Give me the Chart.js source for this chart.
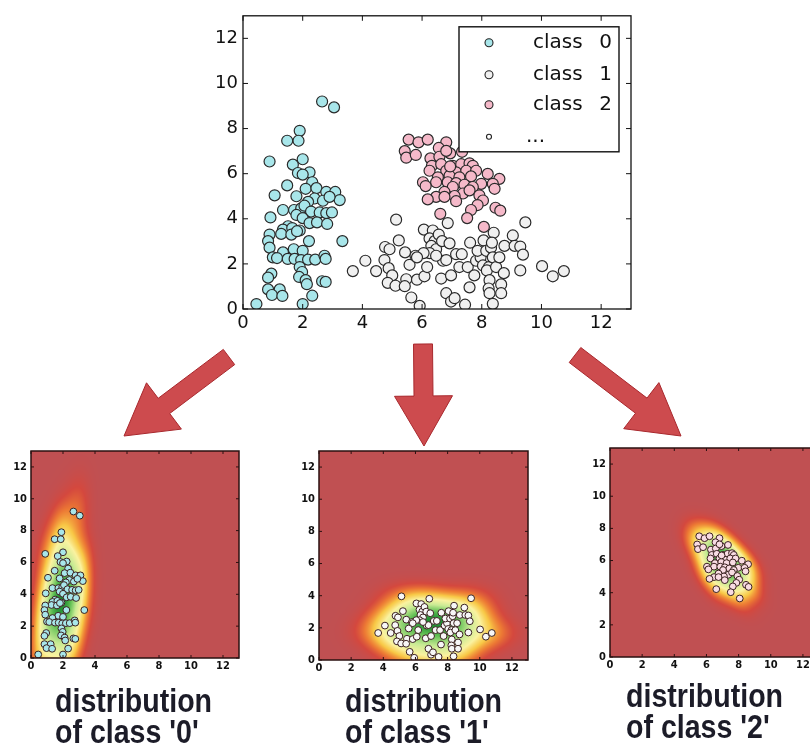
<!DOCTYPE html>
<html><head><meta charset="utf-8">
<script src="https://cdn.jsdelivr.net/npm/chart.js@4.4.1/dist/chart.umd.min.js"></script>
<style>
html,body{margin:0;padding:0;background:#fff;width:810px;height:749px;overflow:hidden;position:relative;}
.box{position:absolute;}
.lbl{position:absolute;font-family:"Liberation Sans",Arial,sans-serif;font-weight:bold;font-size:34px;line-height:31px;color:#1c1c28;white-space:nowrap;transform:scaleX(0.84);transform-origin:0 0;}
svg{position:absolute;left:0;top:0;}
</style></head><body>
<div class="box" style="left:200px;top:0;"><canvas id="main" width="440" height="340"></canvas></div>
<div class="box" style="left:0px;top:440px;"><canvas id="c0" width="250" height="240"></canvas></div>
<div class="box" style="left:285px;top:440px;"><canvas id="c1" width="255" height="240"></canvas></div>
<div class="box" style="left:575px;top:437px;"><canvas id="c2" width="260" height="243"></canvas></div>
<svg id="arrows" width="810" height="749"></svg>
<div class="lbl" style="left:55px;top:685px;">distribution<br>of class '0'</div>
<div class="lbl" style="left:345px;top:685px;">distribution<br>of class '1'</div>
<div class="lbl" style="left:626px;top:680px;">distribution<br>of class '2'</div>
<script>
// ---------------- data ----------------
const class0Points = [[0.45,0.22],[2.65,9.2],[3.05,8.94],[1.9,7.9],[1.48,7.46],[1.86,7.46],[0.89,6.54],[2.0,6.64],[1.67,6.4],[1.84,6.03],[2.23,6.06],[2.0,5.96],[1.48,5.48],[2.32,5.62],[2.1,5.33],[2.46,5.36],[1.06,5.04],[1.79,5.0],[2.79,5.19],[3.09,5.19],[2.4,4.9],[2.68,4.8],[3.24,4.83],[2.9,4.97],[2.18,4.75],[1.34,4.39],[1.71,4.39],[1.95,4.46],[2.06,4.58],[2.28,4.32],[2.57,4.28],[2.79,4.25],[2.98,4.28],[0.92,4.06],[1.79,4.17],[2.0,4.03],[2.23,3.81],[2.48,3.84],[2.82,3.77],[1.51,3.67],[1.34,3.52],[1.65,3.59],[1.9,3.48],[1.28,3.33],[1.62,3.3],[1.81,3.45],[0.89,3.3],[0.84,3.01],[0.89,2.72],[3.33,3.01],[2.21,3.01],[1.7,2.65],[2.0,2.58],[1.34,2.51],[1.0,2.29],[1.14,2.26],[1.5,2.22],[1.73,2.22],[1.95,2.17],[2.18,2.19],[2.42,2.19],[2.73,2.36],[2.77,2.22],[1.9,1.86],[1.98,1.64],[0.95,1.57],[0.84,1.39],[1.88,1.42],[2.1,1.28],[2.14,1.1],[2.65,1.23],[2.77,1.2],[0.84,0.87],[1.23,0.87],[0.97,0.62],[1.32,0.58],[2.32,0.59],[2.0,0.22]];
const class1Points = [[3.68,1.68],[4.1,2.14],[4.46,1.68],[4.74,2.17],[4.76,2.75],[4.91,2.65],[4.88,1.81],[5.0,1.49],[4.85,1.16],[5.11,1.03],[5.13,3.96],[5.22,3.04],[5.43,2.51],[5.58,1.96],[5.47,1.32],[5.42,1.01],[5.64,0.51],[5.92,0.14],[5.78,2.36],[5.83,1.3],[6.08,1.45],[6.17,1.86],[6.06,3.52],[6.36,3.48],[6.25,3.13],[6.42,3.01],[6.31,2.8],[6.47,2.65],[6.25,2.48],[6.05,2.48],[6.56,3.3],[6.67,3.01],[6.86,3.81],[6.92,2.91],[6.7,2.14],[6.81,2.17],[6.47,2.36],[6.64,1.35],[6.97,1.49],[6.81,0.7],[6.97,0.33],[7.09,0.48],[7.44,0.19],[7.14,2.43],[7.33,2.43],[7.25,1.86],[7.53,1.86],[7.61,2.94],[7.59,0.96],[7.75,1.49],[7.81,2.14],[7.96,2.29],[8.04,1.93],[7.86,2.58],[8.06,3.04],[8.15,2.58],[8.24,1.86],[8.31,2.72],[8.37,2.29],[8.17,1.71],[8.26,1.28],[8.23,0.91],[8.26,0.7],[8.37,0.23],[8.4,3.38],[8.34,2.94],[8.48,1.86],[8.59,2.29],[8.76,2.8],[8.74,1.59],[8.65,1.09],[8.65,0.7],[9.04,3.26],[9.1,2.8],[9.29,2.77],[9.38,2.41],[9.29,1.71],[9.46,3.84],[10.02,1.9],[10.38,1.45],[10.75,1.68],[5.83,2.29]];
const class2Points = [[5.55,7.51],[5.88,7.39],[6.19,7.51],[6.81,7.39],[6.56,7.14],[5.42,7.0],[5.47,6.71],[5.79,6.83],[6.94,6.9],[7.34,6.97],[6.28,6.68],[6.58,6.75],[6.33,6.35],[6.64,6.42],[7.03,6.35],[7.31,6.42],[7.59,6.46],[7.7,6.35],[6.25,6.13],[6.81,6.13],[7.14,6.06],[7.48,6.13],[7.81,6.13],[8.2,5.99],[6.53,5.84],[6.92,5.91],[7.25,5.84],[7.64,5.88],[8.59,5.77],[6.03,5.62],[6.47,5.62],[6.86,5.62],[7.14,5.58],[7.42,5.51],[7.98,5.55],[8.37,5.55],[6.12,5.45],[7.03,5.41],[7.7,5.41],[8.43,5.33],[6.75,5.19],[7.37,5.12],[7.59,5.26],[7.09,5.01],[6.47,4.97],[6.75,4.97],[7.92,5.04],[6.19,4.86],[7.14,4.78],[8.04,4.81],[7.86,4.61],[7.64,4.39],[8.46,4.49],[8.62,4.36],[6.61,4.22],[7.51,4.03],[8.07,3.64],[6.81,7.01],[6.94,6.32]];
const classNames = ['class','class','class','...'];
const classIds = ['0','1','2',''];
const tickValues = [0,2,4,6,8,10,12];
const axisMin = 0, axisMax = 13;

// ---------------- styles ----------------
const fills = ['#a8e6ea','#f0f0f0','#f5b9c9'];
const smallFills = ['#a8e6ea','#f7f7f7','#f8dbe3'];
const allClasses = [class0Points, class1Points, class2Points];
const toXY = pts => pts.map(p => ({x:p[0], y:p[1]}));

const framePlugin = {
  id:'frame',
  afterDatasetsDraw(chart, args, o){
    const {ctx, chartArea:a, scales:{x,y}} = chart;
    ctx.save();
    ctx.strokeStyle = o.color; ctx.lineWidth = o.width;
    ctx.strokeRect(a.left, a.top, a.right-a.left, a.bottom-a.top);
    ctx.lineWidth = o.tickWidth;
    ctx.beginPath();
    tickValues.forEach(v=>{
      const px = x.getPixelForValue(v), py = y.getPixelForValue(v);
      ctx.moveTo(px,a.bottom); ctx.lineTo(px,a.bottom-o.len);
      ctx.moveTo(px,a.top); ctx.lineTo(px,a.top+o.len);
      ctx.moveTo(a.left,py); ctx.lineTo(a.left+o.len,py);
      ctx.moveTo(a.right,py); ctx.lineTo(a.right-o.len,py);
    });
    ctx.stroke(); ctx.restore();
  }
};

const legendPlugin = {
  id:'boxLegend',
  afterDatasetsDraw(chart, args, o){
    if(!o.show) return;
    const {ctx, chartArea:a} = chart;
    const L = a.left + 216, T = a.top + 11, W = 160, H = 125;
    ctx.save();
    ctx.fillStyle = '#fff'; ctx.fillRect(L,T,W,H);
    ctx.strokeStyle = '#111'; ctx.lineWidth = 1.4; ctx.strokeRect(L,T,W,H);
    ctx.font = '20px "DejaVu Sans"'; ctx.textBaseline = 'middle'; ctx.fillStyle = '#111';
    const rows = [T+16, T+48, T+78, T+110];
    rows.forEach((ry,i)=>{
      ctx.beginPath();
      ctx.arc(L+30, ry, i<3?4:2.5, 0, Math.PI*2);
      ctx.fillStyle = i<3 ? fills[i] : '#fff'; ctx.fill();
      ctx.strokeStyle = '#222'; ctx.lineWidth = 1.1; ctx.stroke();
      ctx.fillStyle = '#111';
      ctx.textAlign = 'left';
      ctx.fillText(classNames[i], i<3 ? L+74 : L+67, ry);
      ctx.textAlign = 'right';
      ctx.fillText(classIds[i], L+153, ry);
    });
    ctx.restore();
  }
};

// colour map for density
const cmapStops = [
  [0.00,[192,80,82]],
  [0.04,[212,72,62]],
  [0.10,[236,120,52]],
  [0.20,[248,200,70]],
  [0.34,[250,242,160]],
  [0.55,[200,234,148]],
  [0.80,[95,190,82]],
  [1.00,[28,140,48]]
];
function cmap(t){
  for(let k=1;k<cmapStops.length;k++){
    if(t<=cmapStops[k][0]){
      const [t0,c0]=cmapStops[k-1],[t1,c1]=cmapStops[k];
      const f=(t-t0)/(t1-t0);
      return c0.map((c,i)=>c+(c1[i]-c)*f);
    }
  }
  return cmapStops[cmapStops.length-1][1];
}

const heatPlugin = {
  id:'heat',
  beforeDatasetsDraw(chart, args, o){
    if(!o.points) return;
    const {ctx, chartArea:a, scales:{x,y}} = chart;
    const pts = o.points, n = pts.length;
    let mx=0,my=0; pts.forEach(p=>{mx+=p[0];my+=p[1];}); mx/=n; my/=n;
    let sxx=0,syy=0,sxy=0;
    pts.forEach(p=>{const dx=p[0]-mx,dy=p[1]-my;sxx+=dx*dx;syy+=dy*dy;sxy+=dx*dy;});
    sxx/=(n-1); syy/=(n-1); sxy/=(n-1);
    const f2 = Math.pow(n,-1/3)*o.bwScale*o.bwScale;
    const hxx=sxx*f2, hyy=syy*f2, hxy=sxy*f2;
    const det = hxx*hyy-hxy*hxy;
    const ixx=hyy/det, iyy=hxx/det, ixy=-hxy/det;
    const w = Math.round(a.right-a.left), h = Math.round(a.bottom-a.top);
    const off = document.createElement('canvas'); off.width=w; off.height=h;
    const octx = off.getContext('2d'); const img = octx.createImageData(w,h);
    const dens = new Float32Array(w*h); let max=0;
    for(let j=0;j<h;j++){
      const vy = y.getValueForPixel(a.top+j+0.5);
      for(let i=0;i<w;i++){
        const vx = x.getValueForPixel(a.left+i+0.5);
        let s=0;
        for(let k=0;k<n;k++){
          const dx=vx-pts[k][0], dy=vy-pts[k][1];
          const q = dx*dx*ixx + 2*dx*dy*ixy + dy*dy*iyy;
          if(q<30) s+=Math.exp(-0.5*q);
        }
        dens[j*w+i]=s; if(s>max) max=s;
      }
    }
    for(let p=0;p<w*h;p++){
      const c = cmap(dens[p]/max);
      img.data[p*4]=c[0]; img.data[p*4+1]=c[1]; img.data[p*4+2]=c[2]; img.data[p*4+3]=255;
    }
    octx.putImageData(img,0,0);
    ctx.drawImage(off, a.left, a.top);
  }
};

function makeChart(id, datasets, cfg){
  return new Chart(document.getElementById(id), {
    type:'scatter',
    data:{datasets},
    options:{
      responsive:false, animation:false, events:[],
      layout:{padding:{top:cfg.padTop, right:cfg.padRight, left:0, bottom:0}},
      plugins:{legend:{display:false}, tooltip:{enabled:false},
        frame:{color:cfg.frameColor, width:cfg.frameWidth, tickWidth:1, len:cfg.tickLen},
        boxLegend:{show:cfg.legend}, heat:{points:cfg.heat, bwScale:1.45}},
      scales:{
        x:{type:'linear', min:axisMin, max:axisMax,
           afterFit:s=>{s.height=cfg.xH;},
           afterBuildTicks:s=>{s.ticks = tickValues.map(v=>({value:v}));},
           grid:{display:false, drawTicks:false}, border:{display:false},
           ticks:{font:cfg.xFont, color:'#111', padding:cfg.xPad, maxRotation:0, autoSkip:false}},
        y:{type:'linear', min:axisMin, max:axisMax,
           afterFit:s=>{s.width=cfg.yW;},
           afterBuildTicks:s=>{s.ticks = tickValues.map(v=>({value:v}));},
           grid:{display:false, drawTicks:false}, border:{display:false},
           ticks:{font:cfg.yFont, color:'#111', padding:cfg.yPad, autoSkip:false}}
      }
    },
    plugins:[heatPlugin, framePlugin, legendPlugin]
  });
}

// main chart
makeChart('main', allClasses.map((pts,i)=>({
  data:toXY(pts), backgroundColor:fills[i], borderColor:'#2a2a2a', borderWidth:1.2, pointRadius:5.5
})), {padTop:10, padRight:9, xH:31, yW:43, xPad:4, yPad:5,
     xFont:{family:'DejaVu Sans', size:18}, yFont:{family:'DejaVu Sans', size:18},
     frameColor:'#111', frameWidth:1.3, tickLen:5, legend:true, heat:null});

// small charts
const smallCfg = [
  {id:'c0', padTop:11, padRight:11, xH:22, yW:31},
  {id:'c1', padTop:11, padRight:12, xH:20, yW:34},
  {id:'c2', padTop:11, padRight:16, xH:23, yW:35}
];
smallCfg.forEach((c,i)=>{
  makeChart(c.id, [{data:toXY(allClasses[i]), backgroundColor:smallFills[i], borderColor:'#3a2020', borderWidth:1, pointRadius:3.4}],
    {padTop:c.padTop, padRight:c.padRight, xH:c.xH, yW:c.yW, xPad:2, yPad:4,
     xFont:{family:'DejaVu Sans Condensed', size:11, weight:'bold'}, yFont:{family:'DejaVu Sans Condensed', size:11, weight:'bold'},
     frameColor:'#2a1010', frameWidth:1.5, tickLen:3, legend:false, heat:allClasses[i]});
});

// arrows (decoration)
function arrowPoly(x1,y1,x2,y2,sw,hw,hl){
  const dx=x2-x1, dy=y2-y1, L=Math.hypot(dx,dy), ux=dx/L, uy=dy/L, px=-uy, py=ux;
  const bx=x2-ux*hl, by=y2-uy*hl;
  const P=[[x1+px*sw/2,y1+py*sw/2],[bx+px*sw/2,by+py*sw/2],[bx+px*hw/2,by+py*hw/2],[x2,y2],
           [bx-px*hw/2,by-py*hw/2],[bx-px*sw/2,by-py*sw/2],[x1-px*sw/2,y1-py*sw/2]];
  return P.map(p=>p[0].toFixed(1)+','+p[1].toFixed(1)).join(' ');
}
const arrows = [[229,357,124,436],[423,344,424,446],[575,355,681,436]];
document.getElementById('arrows').innerHTML = arrows.map(a=>
  `<polygon points="${arrowPoly(a[0],a[1],a[2],a[3],19,58,50)}" fill="#cd4b4e" stroke="#a8282d" stroke-width="1"/>`).join('');
</script>
</body></html>
